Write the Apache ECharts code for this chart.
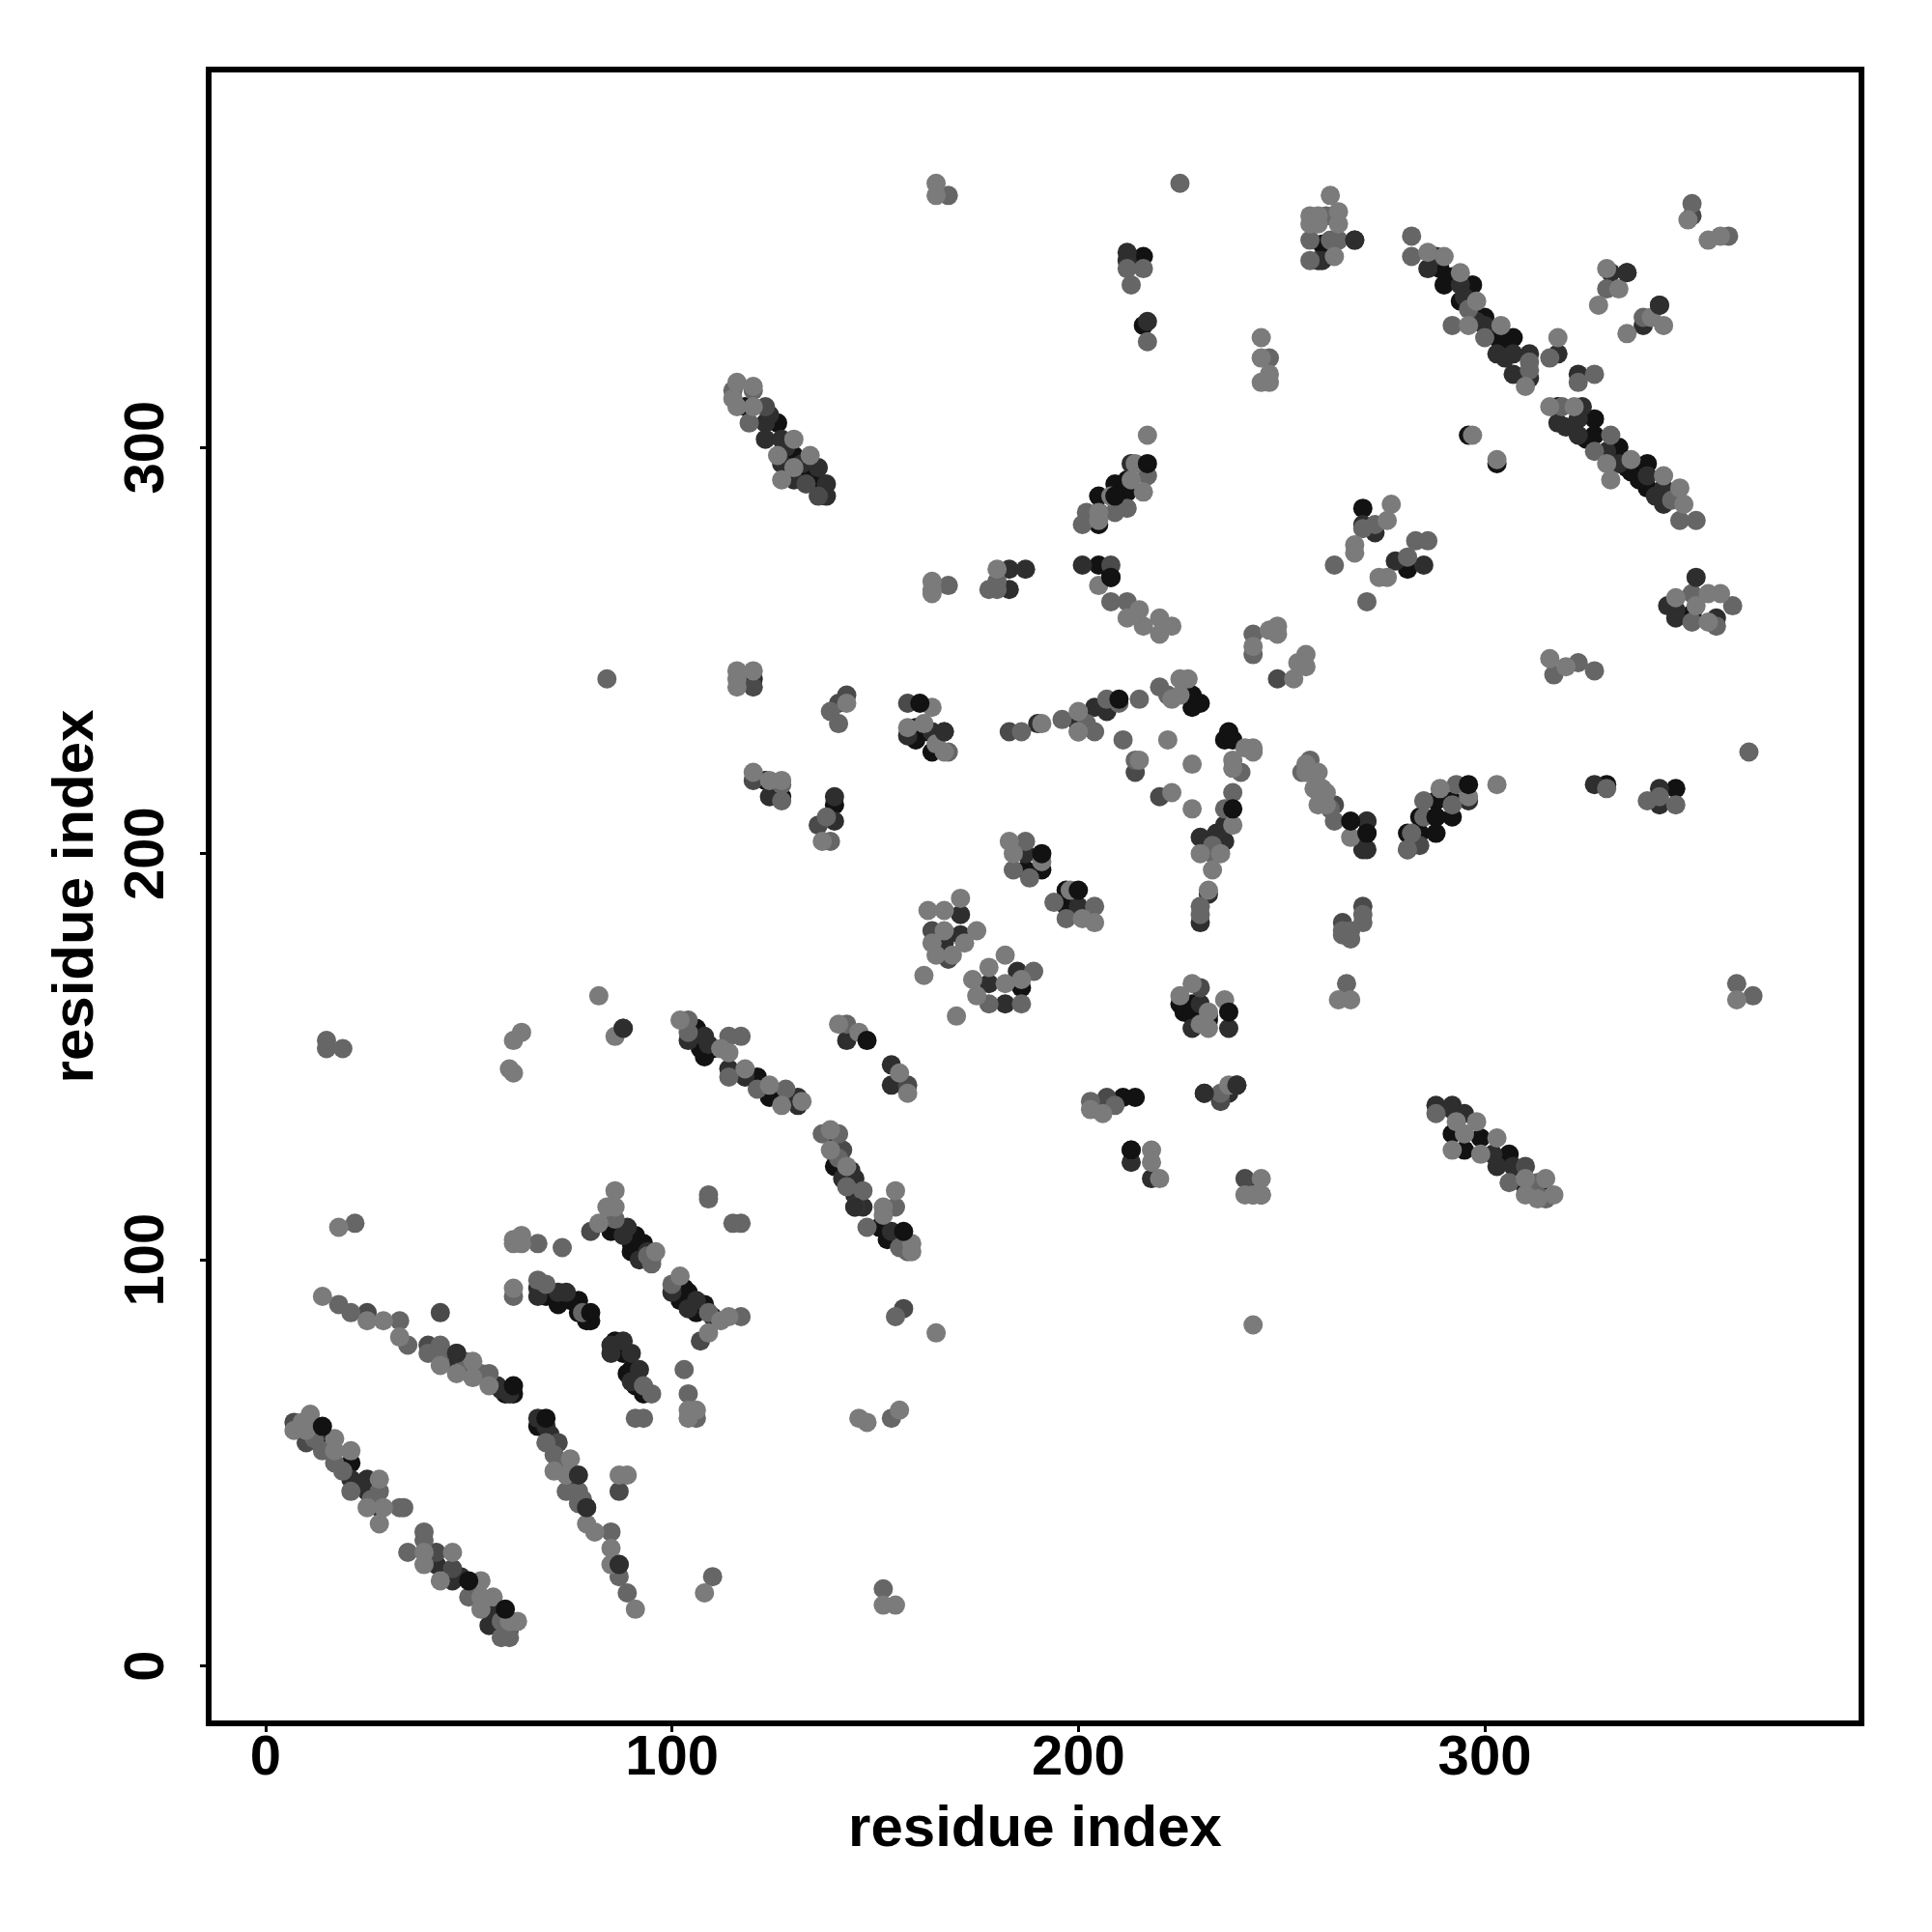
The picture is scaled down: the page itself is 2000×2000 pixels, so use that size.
<!DOCTYPE html>
<html>
<head>
<meta charset="utf-8">
<style>html,body{margin:0;padding:0;background:#fff}#c{width:2000px;height:2000px}</style>
<script src="https://cdn.jsdelivr.net/npm/echarts@6/dist/echarts.min.js"></script>
</head>
<body>
<div id="c"></div>
<script>
const axisTitle = "residue index";
const tickValues = [0, 100, 200, 300];

const nearBlackPoints = [[21,50],[69,91],[72,89],[77,90],[77,87],[79,85],[86,80],[86,78],[89,72],[91,69],[93,67],[59,67],[85,107],[91,106],[90,102],[93,104],[106,157],[106,154],[107,152],[110,152],[103,93],[102,90],[108,89],[106,87],[124,140],[128,139],[121,145],[140,128],[140,123],[151,108],[153,105],[160,231],[160,228],[163,230],[164,225],[228,239],[228,236],[237,230],[236,228],[238,228],[187,196],[191,196],[197,191],[197,187],[186,167],[225,163],[228,163],[232,159],[226,161],[228,160],[229,160],[232,160],[230,159],[260,350],[289,344],[290,340],[297,340],[294,336],[300,332],[303,327],[307,327],[318,310],[327,307],[327,303],[333,300],[336,294],[340,296],[340,290],[281,270],[351,259],[296,303],[303,296],[270,285],[118,310],[126,306],[130,298],[133,294],[209,291],[212,292],[205,288],[209,288],[212,289],[205,284],[205,281],[205,271],[208,268],[292,131],[295,127],[299,130],[306,126],[310,118],[314,117],[281,205],[284,209],[284,205],[288,213],[288,209],[288,205],[292,209],[292,213],[347,216],[330,217],[127,214],[140,212],[216,330],[216,347],[211,140],[123,218],[271,205],[67,59],[61,67],[88,77],[90,73],[75,90],[80,85],[104,92],[87,107],[90,104],[108,150],[156,105],[292,342],[304,326],[325,302],[335,295],[338,292],[136,291],[60,68]];

const darkPoints = [[14,55],[21,46],[25,46],[25,43],[28,39],[42,25],[46,21],[56,14],[55,10],[47,77],[47,74],[58,68],[67,93],[72,92],[74,92],[85,79],[88,80],[90,77],[92,73],[89,108],[88,106],[92,100],[108,155],[104,88],[114,147],[118,145],[131,140],[131,138],[142,120],[145,120],[145,116],[147,113],[143,154],[154,148],[154,143],[158,229],[164,230],[167,230],[190,232],[200,232],[204,236],[207,235],[236,207],[236,203],[234,205],[230,204],[187,200],[200,187],[171,185],[171,180],[167,178],[178,168],[185,171],[182,163],[230,163],[228,157],[237,157],[232,190],[230,183],[206,138],[213,124],[288,138],[292,138],[292,137],[295,136],[302,126],[303,123],[307,123],[259,346],[260,346],[286,344],[288,347],[294,340],[300,330],[303,323],[307,323],[311,323],[311,317],[307,318],[318,323],[323,318],[324,310],[318,306],[323,307],[323,303],[333,296],[340,293],[344,290],[344,286],[331,343],[335,343],[339,330],[343,335],[270,281],[273,279],[278,272],[285,271],[347,260],[347,258],[357,258],[123,306],[123,302],[127,302],[127,296],[130,292],[136,295],[138,291],[138,288],[213,296],[212,348],[212,346],[217,331],[183,270],[187,270],[183,265],[201,271],[270,203],[270,201],[271,201],[281,201],[296,213],[327,217],[343,216],[343,212],[124,214],[140,214],[140,208],[237,141],[245,116],[243,118],[120,243],[218,120],[67,61],[69,59],[60,67],[85,77],[90,70],[67,91],[100,92],[106,90],[110,86],[94,102],[104,154],[109,153],[144,122],[154,107],[295,337],[305,322],[298,331],[320,305],[330,299],[342,288],[124,308],[128,300],[132,296],[14,57],[23,45],[48,22],[57,13],[50,73],[57,69],[70,57],[76,44],[345,261]];

const darkMidPoints = [[7,60],[10,55],[42,28],[46,24],[40,79],[43,87],[25,87],[72,55],[79,39],[87,43],[87,25],[80,107],[107,80],[88,157],[157,88],[158,143],[158,237],[183,230],[164,181],[168,174],[230,167],[214,220],[220,214],[231,141],[239,143],[207,140],[235,139],[265,183],[270,187],[263,212],[123,310],[133,291],[136,288],[268,351],[249,243],[243,116],[351,357],[136,207],[142,127],[310,123],[271,208],[284,202],[208,271],[241,120],[120,241],[143,239],[141,237],[120,218],[60,9]];

const midPoints = [[11,60],[14,53],[17,50],[21,43],[28,43],[33,39],[34,39],[39,33],[39,31],[35,28],[50,17],[58,7],[60,7],[18,89],[21,87],[33,85],[35,79],[40,77],[43,79],[43,76],[55,72],[61,91],[67,95],[69,94],[67,104],[73,103],[87,22],[89,18],[69,55],[71,52],[74,43],[77,43],[77,40],[85,33],[110,22],[86,110],[94,101],[95,100],[109,116],[109,115],[115,109],[117,109],[100,94],[109,87],[117,86],[103,73],[104,67],[106,61],[91,61],[93,61],[104,156],[114,155],[117,155],[114,145],[121,142],[128,142],[104,159],[143,158],[137,131],[141,131],[147,117],[145,113],[155,113],[148,108],[155,86],[156,103],[154,61],[168,225],[186,230],[196,233],[202,232],[204,230],[215,238],[220,241],[222,239],[240,220],[238,215],[236,211],[233,202],[233,200],[211,228],[214,223],[230,187],[230,185],[187,203],[184,196],[188,194],[194,188],[204,187],[197,184],[189,171],[178,163],[186,163],[255,220],[260,215],[263,208],[257,223],[262,211],[265,180],[265,181],[270,183],[270,185],[267,181],[267,179],[203,139],[209,138],[235,141],[213,127],[288,136],[306,119],[313,119],[315,115],[261,357],[257,351],[262,351],[264,351],[257,346],[282,352],[282,347],[296,334],[292,330],[300,327],[311,319],[311,321],[316,322],[327,318],[323,316],[319,310],[331,303],[327,299],[348,282],[352,282],[351,360],[360,352],[330,339],[339,332],[273,281],[270,280],[263,271],[283,277],[286,277],[281,273],[271,262],[351,264],[361,261],[351,257],[357,256],[115,314],[120,314],[119,306],[200,230],[207,238],[210,237],[168,266],[180,267],[178,265],[180,265],[208,262],[212,262],[139,235],[141,232],[127,217],[127,213],[138,209],[139,203],[282,205],[281,201],[285,213],[285,209],[292,212],[293,217],[202,284],[209,284],[212,285],[201,281],[217,293],[330,216],[340,213],[347,212],[343,214],[365,225],[323,247],[327,245],[362,168],[366,165],[168,362],[243,254],[243,249],[317,244],[247,322],[15,154],[15,152],[19,152],[22,109],[84,243],[217,326],[213,340],[152,19],[266,168],[225,365],[212,344],[216,344],[95,67],[93,69],[78,87],[95,99],[143,118],[141,125],[158,102],[346,287],[12,56],[19,48],[26,41],[52,19],[58,11],[49,75],[53,72],[72,50],[73,49],[78,41]];

const lightPoints = [[7,58],[11,62],[9,60],[10,58],[17,56],[21,53],[17,53],[28,46],[25,39],[29,39],[28,35],[39,28],[39,25],[46,28],[43,21],[53,21],[53,17],[56,17],[53,14],[60,11],[62,11],[14,91],[25,85],[29,85],[33,81],[43,74],[47,72],[51,75],[51,71],[55,69],[61,93],[61,105],[63,106],[61,104],[63,104],[82,109],[75,51],[71,48],[74,47],[79,35],[81,33],[85,29],[85,25],[91,14],[89,47],[87,47],[108,18],[86,117],[84,113],[86,113],[96,102],[102,96],[112,85],[114,86],[109,82],[104,63],[104,61],[106,63],[102,159],[86,155],[82,165],[112,152],[114,151],[118,147],[124,143],[127,138],[132,139],[141,158],[146,156],[158,141],[156,146],[139,132],[139,127],[143,123],[155,117],[152,113],[152,111],[159,104],[159,102],[146,61],[148,60],[156,63],[165,82],[162,170],[170,160],[164,236],[158,231],[162,232],[165,227],[167,225],[191,232],[200,235],[200,230],[223,238],[225,243],[227,243],[225,239],[222,228],[215,223],[228,222],[223,215],[228,211],[241,226],[243,226],[243,225],[238,223],[238,221],[238,207],[235,200],[230,200],[233,196],[232,191],[183,203],[184,200],[191,198],[198,191],[201,184],[204,183],[163,186],[167,186],[171,189],[167,181],[175,181],[164,178],[172,178],[165,175],[169,175],[182,175],[178,172],[174,169],[182,168],[186,169],[175,165],[228,168],[225,165],[232,161],[236,164],[230,158],[232,157],[256,222],[256,220],[259,220],[258,216],[260,216],[261,215],[259,212],[261,212],[267,204],[267,164],[264,164],[203,137],[206,136],[237,143],[218,127],[218,124],[220,120],[245,120],[241,116],[243,116],[245,116],[293,134],[298,134],[295,131],[292,127],[299,126],[303,130],[310,120],[310,116],[315,120],[313,115],[317,116],[262,362],[257,357],[259,357],[257,355],[259,355],[264,358],[264,355],[263,347],[286,348],[290,347],[294,343],[298,336],[296,330],[304,330],[310,315],[318,327],[316,310],[322,310],[330,296],[331,292],[336,297],[344,293],[348,290],[349,286],[350,356],[355,351],[358,352],[330,344],[333,339],[328,335],[344,330],[341,332],[335,328],[297,303],[303,297],[277,286],[276,282],[268,276],[268,274],[274,268],[276,268],[347,263],[355,264],[358,264],[355,257],[116,316],[120,315],[115,312],[116,310],[120,310],[130,302],[126,298],[134,298],[130,295],[127,292],[217,303],[214,296],[213,292],[216,289],[208,288],[205,284],[205,282],[164,267],[164,265],[164,264],[180,270],[205,266],[212,258],[215,260],[216,256],[220,258],[220,254],[223,256],[116,245],[120,245],[116,243],[116,241],[143,237],[137,203],[120,220],[124,218],[127,218],[289,216],[296,214],[303,217],[316,248],[320,246],[362,164],[165,365],[165,362],[243,251],[247,255],[249,256],[249,254],[253,243],[256,249],[256,246],[254,247],[245,327],[245,322],[247,318],[245,316],[247,316],[18,108],[60,147],[61,146],[61,154],[63,156],[152,15],[155,15],[243,84],[352,261]];

const topDarkPoints = [[77,47],[47,77],[335,343],[352,268],[343,335],[268,351],[145,113],[79,39],[87,25],[167,230],[88,157],[231,141],[239,143],[271,208]];

const topBlackPoints = [[14,59],[50,21],[59,14],[69,61],[61,69],[80,87],[148,154],[157,107],[161,237],[210,238],[230,237],[238,211],[191,200],[200,191],[237,161],[214,140],[213,127],[217,296],[208,268],[209,288],[267,208],[271,205],[296,217],[288,209]];

const layers = [
  [nearBlackPoints, "#121212"],
  [darkPoints, "#2e2e2e"],
  [darkMidPoints, "#4a4a4a"],
  [midPoints, "#666666"],
  [lightPoints, "#7b7b7b"],
  [topDarkPoints, "#2e2e2e"],
  [topBlackPoints, "#121212"]
];

const font = '"Liberation Sans", Arial, sans-serif';
const chart = echarts.init(document.getElementById("c"), null, {renderer: "canvas"});
const axisBase = {
  type: "value",
  name: axisTitle,
  nameLocation: "middle",
  nameTextStyle: {fontFamily: font, fontWeight: "bold", fontSize: 60, color: "#000"},
  splitLine: {show: false},
  axisLine: {show: false, onZero: false}
};
chart.setOption({
  animation: false,
  backgroundColor: "#fff",
  grid: {show: true, left: 216, right: 73, top: 72, bottom: 216, borderColor: "#000", borderWidth: 6, backgroundColor: "#fff", containLabel: false},
  xAxis: Object.assign({}, axisBase, {
    min: -14, max: 392.7, nameGap: 80,
    axisTick: {show: true, length: 9, inside: false, lineStyle: {color: "#000", width: 3}, customValues: tickValues},
    axisLabel: {show: true, fontFamily: font, fontWeight: "bold", fontSize: 58, color: "#000", margin: 8, customValues: tickValues, hideOverlap: false, showMinLabel: true, showMaxLabel: true}
  }),
  yAxis: Object.assign({}, axisBase, {
    min: -14.1, max: 393, nameGap: 107,
    axisTick: {show: true, length: 9, inside: false, lineStyle: {color: "#000", width: 3}, customValues: tickValues},
    axisLabel: {show: true, rotate: 90, fontFamily: font, fontWeight: "bold", fontSize: 58, color: "#000", margin: 63, customValues: tickValues, hideOverlap: false, showMinLabel: true, showMaxLabel: true, align: "center", verticalAlign: "middle"}
  }),
  series: layers.map(function (l, i) {
    return {type: "scatter", data: l[0], symbol: "circle", symbolSize: 20, z: 2 + i, large: false, silent: true, clip: true,
      itemStyle: {color: l[1], opacity: 1, borderWidth: 0}};
  })
});
</script>
</body>
</html>
